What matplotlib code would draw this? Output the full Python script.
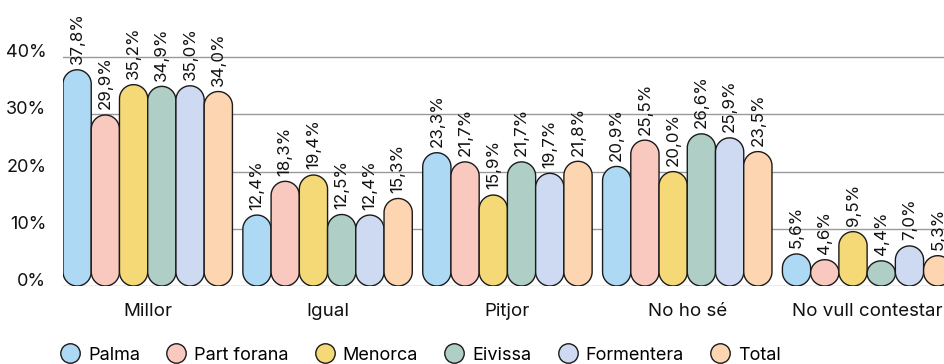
import matplotlib
matplotlib.use("Agg")
import matplotlib.pyplot as plt
import numpy as np
from matplotlib.patches import Polygon
from matplotlib.lines import Line2D

plt.rcParams['font.family'] = ['Inter', 'DejaVu Sans']

categories = ["Millor", "Igual", "Pitjor", "No ho sé", "No vull contestar"]
series = ["Palma", "Part forana", "Menorca", "Eivissa", "Formentera", "Total"]
palma = [37.8, 12.4, 23.3, 20.9, 5.6]
part_forana = [29.9, 18.3, 21.7, 25.5, 4.6]
menorca = [35.2, 19.4, 15.9, 20.0, 9.5]
eivissa = [34.9, 12.5, 21.7, 26.6, 4.4]
formentera = [35.0, 12.4, 19.7, 25.9, 7.0]
total = [34.0, 15.3, 21.8, 23.5, 5.3]
values = [palma, part_forana, menorca, eivissa, formentera, total]
colors = ["#ADD9F5", "#F9C9C0", "#F5D977", "#AECEC6", "#CDDAF1", "#FDD6B1"]
yticks = [0, 10, 20, 30, 40]
ytick_labels = ["0%", "10%", "20%", "30%", "40%"]

W, H = 945, 364
fig = plt.figure(figsize=(W / 100, H / 100), dpi=100)
ax_left_px, ax_bottom_px, ax_top_px = 63, 286, 0
ax = fig.add_axes([ax_left_px / W, (H - ax_bottom_px) / H, (W - ax_left_px) / W, (ax_bottom_px - ax_top_px) / H])

bw = 0.157
n = len(series)
xmin, xmax = -n / 2 * bw, 4.433
ymax = 50.0
ax.set_xlim(xmin, xmax)
ax.set_ylim(0, ymax)

px_per_x = (W - ax_left_px) / (xmax - xmin)
px_per_y = (ax_bottom_px - ax_top_px) / ymax

def pill(xl, w, h, color):
    rx = w / 2
    ry = rx * px_per_x / px_per_y
    ry = min(ry, h / 2)
    xc = xl + rx
    t_top = np.linspace(0, np.pi, 40)
    t_bot = np.linspace(np.pi, 2 * np.pi, 40)
    top = np.column_stack([xc + rx * np.cos(t_top), h - ry + ry * np.sin(t_top)])
    bot = np.column_stack([xc + rx * np.cos(t_bot), ry + ry * np.sin(t_bot)])
    pts = np.vstack([top, bot])
    p = Polygon(pts, closed=True, facecolor=color, edgecolor="#1a1a1a", linewidth=1.0, zorder=3)
    ax.add_patch(p)

for j, (vals, col) in enumerate(zip(values, colors)):
    for i, v in enumerate(vals):
        xl = i + (j - n / 2) * bw
        pill(xl, bw, v, col)
        ax.annotate(f"{v:.1f}%".replace(".", ","), (xl + bw / 2, v), xytext=(0, 4),
                    textcoords="offset points", rotation=90, ha="center", va="bottom",
                    fontsize=12.2, color="#111111", annotation_clip=False)

for y in yticks:
    ax.axhline(y, color="#999999", linewidth=1.0, zorder=1)

ax.set_yticks(yticks)
ax.set_yticklabels(ytick_labels, fontsize=13, color="#111111")
for lab in ax.get_yticklabels():
    lab.set_verticalalignment("baseline")
ax.tick_params(axis="y", length=0, pad=12)
ax.set_xticks(range(len(categories)))
ax.set_xticklabels(categories, fontsize=13.5, color="#111111")
ax.tick_params(axis="x", length=0, pad=12)
for s in ax.spines.values():
    s.set_visible(False)

handles = [Line2D([], [], marker="o", linestyle="none", markersize=14, markerfacecolor=c,
                  markeredgecolor="#1a1a1a", markeredgewidth=1.0) for c in colors]
fig.legend(handles, series, loc="center left", bbox_to_anchor=(60 / W, 9 / H), ncol=6,
           frameon=False, fontsize=13, handletextpad=0.45, columnspacing=1.45,
           handlelength=1.1, borderaxespad=0, borderpad=0)

fig.savefig("out.png", dpi=100)
